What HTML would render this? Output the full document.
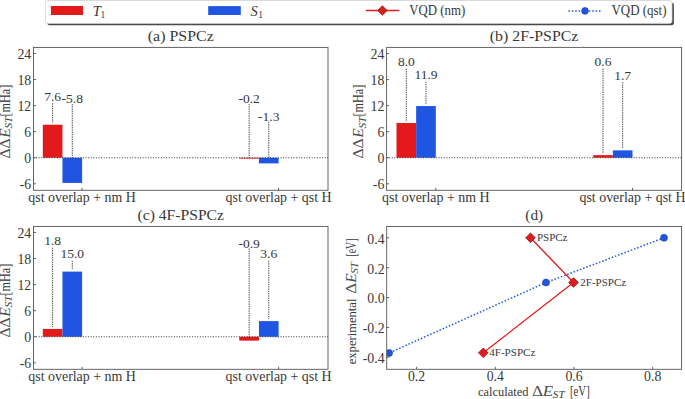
<!DOCTYPE html>
<html><head><meta charset="utf-8"><style>
html,body{margin:0;padding:0;background:#fff;width:685px;height:399px;overflow:hidden}
svg{display:block}
text{font-family:"Liberation Serif", serif;fill:#383838}
</style></head><body>
<svg width="685" height="399" viewBox="0 0 685 399">
<rect x="47.3" y="2.5" width="626.6" height="22.7" rx="2.5" fill="#4a4a4a"/>
<rect x="45.4" y="0.5" width="626.6" height="22.9" rx="2.5" fill="#fff" stroke="#d0d0d0" stroke-width="0.8"/>
<rect x="50.9" y="6" width="32.1" height="9" fill="#e31a1c"/>
<text x="92.8" y="16.0" font-size="14.5" font-style="italic">T</text>
<text x="100.5" y="17.6" font-size="9.5">1</text>
<rect x="208.2" y="6.1" width="32.6" height="8.9" fill="#1f55e0"/>
<text x="250.6" y="16.0" font-size="14.5" font-style="italic">S</text>
<text x="258.2" y="17.6" font-size="9.5">1</text>
<line x1="365.8" y1="10.5" x2="399.3" y2="10.5" stroke="#e31a1c" stroke-width="1.3"/>
<path d="M382.4 5.8 L387.1 10.5 L382.4 15.2 L377.7 10.5 Z" fill="#e31a1c" stroke="#8c1010" stroke-width="0.8"/>
<text x="409.3" y="15.4" font-size="14" text-anchor="start" textLength="56" lengthAdjust="spacingAndGlyphs" >VQD (nm)</text>
<line x1="568.4" y1="10.9" x2="601.2" y2="10.9" stroke="#1f55e0" stroke-width="1.5" stroke-dasharray="1.5 1.9"/>
<circle cx="585" cy="10.9" r="3.4" fill="#1f55e0" stroke="#1b3f9e" stroke-width="0.6"/>
<text x="611.5" y="15.4" font-size="14" text-anchor="start" textLength="55" lengthAdjust="spacingAndGlyphs" >VQD (qst)</text>
<rect x="42.80" y="124.73" width="19.65" height="33.01" fill="#e31a1c"/>
<rect x="62.45" y="157.74" width="19.65" height="25.19" fill="#1f55e0"/>
<text x="52.62" y="100.5" font-size="13.5" text-anchor="middle" >7.6</text>
<line x1="52.62" y1="103.2" x2="52.62" y2="122.73" stroke="#222" stroke-width="0.8" stroke-dasharray="1.4 0.9"/>
<text x="72.27" y="103.3" font-size="13.5" text-anchor="middle" >-5.8</text>
<line x1="72.27" y1="104" x2="72.27" y2="157.74" stroke="#222" stroke-width="0.8" stroke-dasharray="1.4 0.9"/>
<rect x="239.30" y="157.74" width="19.65" height="0.87" fill="#e31a1c"/>
<rect x="258.95" y="157.74" width="19.65" height="5.65" fill="#1f55e0"/>
<text x="249.13" y="103.3" font-size="13.5" text-anchor="middle" >-0.2</text>
<line x1="249.13" y1="104" x2="249.13" y2="157.74" stroke="#222" stroke-width="0.8" stroke-dasharray="1.4 0.9"/>
<text x="268.78" y="121.0" font-size="13.5" text-anchor="middle" >-1.3</text>
<line x1="268.78" y1="121.7" x2="268.78" y2="157.74" stroke="#222" stroke-width="0.8" stroke-dasharray="1.4 0.9"/>
<line x1="33.5" y1="157.74" x2="328.0" y2="157.74" stroke="#222" stroke-width="0.9" stroke-dasharray="1 1.6"/>
<rect x="33.5" y="47.4" width="294.5" height="142.9" fill="none" stroke="#555" stroke-width="0.9"/>
<line x1="33.5" y1="53.51" x2="36.0" y2="53.51" stroke="#555" stroke-width="0.9"/>
<text x="31.2" y="58.71" font-size="13.8" text-anchor="end" >24</text>
<line x1="33.5" y1="79.57" x2="36.0" y2="79.57" stroke="#555" stroke-width="0.9"/>
<text x="31.2" y="84.77" font-size="13.8" text-anchor="end" >18</text>
<line x1="33.5" y1="105.62" x2="36.0" y2="105.62" stroke="#555" stroke-width="0.9"/>
<text x="31.2" y="110.82" font-size="13.8" text-anchor="end" >12</text>
<line x1="33.5" y1="131.68" x2="36.0" y2="131.68" stroke="#555" stroke-width="0.9"/>
<text x="31.2" y="136.88" font-size="13.8" text-anchor="end" >6</text>
<line x1="33.5" y1="157.74" x2="36.0" y2="157.74" stroke="#555" stroke-width="0.9"/>
<text x="31.2" y="162.94" font-size="13.8" text-anchor="end" >0</text>
<line x1="33.5" y1="183.80" x2="36.0" y2="183.80" stroke="#555" stroke-width="0.9"/>
<text x="31.2" y="189.00" font-size="13.8" text-anchor="end" >-6</text>
<line x1="82.1" y1="190.3" x2="82.1" y2="187.8" stroke="#555" stroke-width="0.9"/>
<text x="82.1" y="201.70000000000002" font-size="14" text-anchor="middle" textLength="107.5" lengthAdjust="spacingAndGlyphs" >qst overlap + nm H</text>
<line x1="278.6" y1="190.3" x2="278.6" y2="187.8" stroke="#555" stroke-width="0.9"/>
<text x="278.6" y="201.70000000000002" font-size="14" text-anchor="middle" textLength="106" lengthAdjust="spacingAndGlyphs" >qst overlap + qst H</text>
<text x="180.75" y="41.1" font-size="15" text-anchor="middle" textLength="66" lengthAdjust="spacingAndGlyphs" >(a) PSPCz</text>
<text transform="translate(9.80,158.44) rotate(-90)" font-size="14.5" style="fill:#505050" textLength="20.01" lengthAdjust="spacingAndGlyphs">ΔΔ</text>
<text transform="translate(9.80,137.77) rotate(-90)" font-size="14.5" font-style="italic" style="fill:#505050" textLength="9.51" lengthAdjust="spacingAndGlyphs">E</text>
<text transform="translate(12.10,128.61) rotate(-90)" font-size="10" font-style="italic" textLength="11.95" lengthAdjust="spacingAndGlyphs">ST</text>
<text transform="translate(9.80,116.51) rotate(-90)" font-size="14" textLength="31.83" lengthAdjust="spacingAndGlyphs">[mHa]</text>
<rect x="396.50" y="123.00" width="19.65" height="34.74" fill="#e31a1c"/>
<rect x="416.15" y="106.06" width="19.65" height="51.68" fill="#1f55e0"/>
<text x="406.32" y="66.0" font-size="13.5" text-anchor="middle" >8.0</text>
<line x1="406.32" y1="68.7" x2="406.32" y2="121.00" stroke="#222" stroke-width="0.8" stroke-dasharray="1.4 0.9"/>
<text x="425.98" y="79.0" font-size="13.5" text-anchor="middle" >11.9</text>
<line x1="425.98" y1="81.7" x2="425.98" y2="104.06" stroke="#222" stroke-width="0.8" stroke-dasharray="1.4 0.9"/>
<rect x="593.20" y="155.13" width="19.65" height="2.61" fill="#e31a1c"/>
<rect x="612.85" y="150.36" width="19.65" height="7.38" fill="#1f55e0"/>
<text x="603.02" y="65.89999999999999" font-size="13.5" text-anchor="middle" >0.6</text>
<line x1="603.02" y1="68.6" x2="603.02" y2="153.13" stroke="#222" stroke-width="0.8" stroke-dasharray="1.4 0.9"/>
<text x="622.67" y="79.5" font-size="13.5" text-anchor="middle" >1.7</text>
<line x1="622.67" y1="82.2" x2="622.67" y2="148.36" stroke="#222" stroke-width="0.8" stroke-dasharray="1.4 0.9"/>
<line x1="386.6" y1="157.74" x2="681.6" y2="157.74" stroke="#222" stroke-width="0.9" stroke-dasharray="1 1.6"/>
<rect x="386.6" y="47.4" width="295.0" height="142.9" fill="none" stroke="#555" stroke-width="0.9"/>
<line x1="386.6" y1="53.51" x2="389.1" y2="53.51" stroke="#555" stroke-width="0.9"/>
<text x="384.3" y="58.71" font-size="13.8" text-anchor="end" >24</text>
<line x1="386.6" y1="79.57" x2="389.1" y2="79.57" stroke="#555" stroke-width="0.9"/>
<text x="384.3" y="84.77" font-size="13.8" text-anchor="end" >18</text>
<line x1="386.6" y1="105.62" x2="389.1" y2="105.62" stroke="#555" stroke-width="0.9"/>
<text x="384.3" y="110.82" font-size="13.8" text-anchor="end" >12</text>
<line x1="386.6" y1="131.68" x2="389.1" y2="131.68" stroke="#555" stroke-width="0.9"/>
<text x="384.3" y="136.88" font-size="13.8" text-anchor="end" >6</text>
<line x1="386.6" y1="157.74" x2="389.1" y2="157.74" stroke="#555" stroke-width="0.9"/>
<text x="384.3" y="162.94" font-size="13.8" text-anchor="end" >0</text>
<line x1="386.6" y1="183.80" x2="389.1" y2="183.80" stroke="#555" stroke-width="0.9"/>
<text x="384.3" y="189.00" font-size="13.8" text-anchor="end" >-6</text>
<line x1="435.8" y1="190.3" x2="435.8" y2="187.8" stroke="#555" stroke-width="0.9"/>
<text x="435.8" y="201.70000000000002" font-size="14" text-anchor="middle" textLength="107.5" lengthAdjust="spacingAndGlyphs" >qst overlap + nm H</text>
<line x1="632.5" y1="190.3" x2="632.5" y2="187.8" stroke="#555" stroke-width="0.9"/>
<text x="632.5" y="201.70000000000002" font-size="14" text-anchor="middle" textLength="106" lengthAdjust="spacingAndGlyphs" >qst overlap + qst H</text>
<text x="534.1" y="41.1" font-size="15" text-anchor="middle" textLength="88.5" lengthAdjust="spacingAndGlyphs" >(b) 2F-PSPCz</text>
<text transform="translate(363.20,158.44) rotate(-90)" font-size="14.5" style="fill:#505050" textLength="20.01" lengthAdjust="spacingAndGlyphs">ΔΔ</text>
<text transform="translate(363.20,137.77) rotate(-90)" font-size="14.5" font-style="italic" style="fill:#505050" textLength="9.51" lengthAdjust="spacingAndGlyphs">E</text>
<text transform="translate(365.50,128.61) rotate(-90)" font-size="10" font-style="italic" textLength="11.95" lengthAdjust="spacingAndGlyphs">ST</text>
<text transform="translate(363.20,116.51) rotate(-90)" font-size="14" textLength="31.83" lengthAdjust="spacingAndGlyphs">[mHa]</text>
<rect x="42.80" y="328.92" width="19.65" height="7.82" fill="#e31a1c"/>
<rect x="62.45" y="271.60" width="19.65" height="65.14" fill="#1f55e0"/>
<text x="52.62" y="245.0" font-size="13.5" text-anchor="middle" >1.8</text>
<line x1="52.62" y1="247.7" x2="52.62" y2="326.92" stroke="#222" stroke-width="0.8" stroke-dasharray="1.4 0.9"/>
<text x="72.27" y="258.1" font-size="13.5" text-anchor="middle" >15.0</text>
<line x1="72.27" y1="260.8" x2="72.27" y2="269.60" stroke="#222" stroke-width="0.8" stroke-dasharray="1.4 0.9"/>
<rect x="239.30" y="336.74" width="19.65" height="3.91" fill="#e31a1c"/>
<rect x="258.95" y="321.11" width="19.65" height="15.63" fill="#1f55e0"/>
<text x="249.13" y="247.60000000000002" font-size="13.5" text-anchor="middle" >-0.9</text>
<line x1="249.13" y1="248.3" x2="249.13" y2="336.74" stroke="#222" stroke-width="0.8" stroke-dasharray="1.4 0.9"/>
<text x="268.78" y="258.1" font-size="13.5" text-anchor="middle" >3.6</text>
<line x1="268.78" y1="260.8" x2="268.78" y2="319.11" stroke="#222" stroke-width="0.8" stroke-dasharray="1.4 0.9"/>
<line x1="33.5" y1="336.74" x2="328.0" y2="336.74" stroke="#222" stroke-width="0.9" stroke-dasharray="1 1.6"/>
<rect x="33.5" y="226.4" width="294.5" height="142.9" fill="none" stroke="#555" stroke-width="0.9"/>
<line x1="33.5" y1="232.51" x2="36.0" y2="232.51" stroke="#555" stroke-width="0.9"/>
<text x="31.2" y="237.71" font-size="13.8" text-anchor="end" >24</text>
<line x1="33.5" y1="258.57" x2="36.0" y2="258.57" stroke="#555" stroke-width="0.9"/>
<text x="31.2" y="263.77" font-size="13.8" text-anchor="end" >18</text>
<line x1="33.5" y1="284.62" x2="36.0" y2="284.62" stroke="#555" stroke-width="0.9"/>
<text x="31.2" y="289.82" font-size="13.8" text-anchor="end" >12</text>
<line x1="33.5" y1="310.68" x2="36.0" y2="310.68" stroke="#555" stroke-width="0.9"/>
<text x="31.2" y="315.88" font-size="13.8" text-anchor="end" >6</text>
<line x1="33.5" y1="336.74" x2="36.0" y2="336.74" stroke="#555" stroke-width="0.9"/>
<text x="31.2" y="341.94" font-size="13.8" text-anchor="end" >0</text>
<line x1="33.5" y1="362.80" x2="36.0" y2="362.80" stroke="#555" stroke-width="0.9"/>
<text x="31.2" y="368.00" font-size="13.8" text-anchor="end" >-6</text>
<line x1="82.1" y1="369.3" x2="82.1" y2="366.8" stroke="#555" stroke-width="0.9"/>
<text x="82.1" y="380.7" font-size="14" text-anchor="middle" textLength="107.5" lengthAdjust="spacingAndGlyphs" >qst overlap + nm H</text>
<line x1="278.6" y1="369.3" x2="278.6" y2="366.8" stroke="#555" stroke-width="0.9"/>
<text x="278.6" y="380.7" font-size="14" text-anchor="middle" textLength="106" lengthAdjust="spacingAndGlyphs" >qst overlap + qst H</text>
<text x="180.75" y="220.1" font-size="15" text-anchor="middle" textLength="86.5" lengthAdjust="spacingAndGlyphs" >(c) 4F-PSPCz</text>
<text transform="translate(9.80,337.44) rotate(-90)" font-size="14.5" style="fill:#505050" textLength="20.01" lengthAdjust="spacingAndGlyphs">ΔΔ</text>
<text transform="translate(9.80,316.77) rotate(-90)" font-size="14.5" font-style="italic" style="fill:#505050" textLength="9.51" lengthAdjust="spacingAndGlyphs">E</text>
<text transform="translate(12.10,307.61) rotate(-90)" font-size="10" font-style="italic" textLength="11.95" lengthAdjust="spacingAndGlyphs">ST</text>
<text transform="translate(9.80,295.51) rotate(-90)" font-size="14" textLength="31.83" lengthAdjust="spacingAndGlyphs">[mHa]</text>
<text x="534.2" y="220.1" font-size="15" text-anchor="middle" textLength="17.8" lengthAdjust="spacingAndGlyphs" >(d)</text>
<defs><clipPath id="cd"><rect x="386.7" y="226.5" width="294.90000000000003" height="142.8"/></clipPath></defs>
<g clip-path="url(#cd)">
<polyline points="664,237.8 546,282.5 389.1,353" fill="none" stroke="#1f55e0" stroke-width="1.5" stroke-dasharray="1.5 1.9"/>
<polyline points="530.5,237.8 573.5,282.5 483.3,352.8" fill="none" stroke="#e31a1c" stroke-width="1.3"/>
<circle cx="664" cy="237.8" r="3.5" fill="#1f55e0" stroke="#1b3f9e" stroke-width="0.6"/>
<circle cx="546" cy="282.5" r="3.5" fill="#1f55e0" stroke="#1b3f9e" stroke-width="0.6"/>
<circle cx="389.1" cy="353" r="3.5" fill="#1f55e0" stroke="#1b3f9e" stroke-width="0.6"/>
<path d="M530.5 233.0 L535.3 237.8 L530.5 242.60000000000002 L525.7 237.8 Z" fill="#e31a1c" stroke="#8c1010" stroke-width="0.8"/>
<path d="M573.5 277.7 L578.3 282.5 L573.5 287.3 L568.7 282.5 Z" fill="#e31a1c" stroke="#8c1010" stroke-width="0.8"/>
<path d="M483.3 348.0 L488.1 352.8 L483.3 357.6 L478.5 352.8 Z" fill="#e31a1c" stroke="#8c1010" stroke-width="0.8"/>
</g>
<text x="537.0" y="241.1" font-size="10.5" text-anchor="start" textLength="30.5" lengthAdjust="spacingAndGlyphs" >PSPCz</text>
<text x="580.3" y="285.9" font-size="10.5" text-anchor="start" textLength="45.8" lengthAdjust="spacingAndGlyphs" >2F-PSPCz</text>
<text x="489.2" y="356.3" font-size="10.5" text-anchor="start" textLength="46.2" lengthAdjust="spacingAndGlyphs" >4F-PSPCz</text>
<rect x="386.7" y="226.5" width="294.90000000000003" height="142.8" fill="none" stroke="#555" stroke-width="0.9"/>
<line x1="386.7" y1="237.79" x2="389.2" y2="237.79" stroke="#555" stroke-width="0.9"/>
<text x="384.59999999999997" y="243.69" font-size="13.8" text-anchor="end" >0.4</text>
<line x1="386.7" y1="267.67" x2="389.2" y2="267.67" stroke="#555" stroke-width="0.9"/>
<text x="384.59999999999997" y="273.57" font-size="13.8" text-anchor="end" >0.2</text>
<line x1="386.7" y1="297.55" x2="389.2" y2="297.55" stroke="#555" stroke-width="0.9"/>
<text x="384.59999999999997" y="303.45" font-size="13.8" text-anchor="end" >0.0</text>
<line x1="386.7" y1="327.43" x2="389.2" y2="327.43" stroke="#555" stroke-width="0.9"/>
<text x="384.59999999999997" y="333.33" font-size="13.8" text-anchor="end" >-0.2</text>
<line x1="386.7" y1="357.31" x2="389.2" y2="357.31" stroke="#555" stroke-width="0.9"/>
<text x="384.59999999999997" y="363.21" font-size="13.8" text-anchor="end" >-0.4</text>
<line x1="416.60" y1="369.3" x2="416.60" y2="366.8" stroke="#555" stroke-width="0.9"/>
<text x="416.60" y="380.9" font-size="13.8" text-anchor="middle" >0.2</text>
<line x1="495.30" y1="369.3" x2="495.30" y2="366.8" stroke="#555" stroke-width="0.9"/>
<text x="495.30" y="380.9" font-size="13.8" text-anchor="middle" >0.4</text>
<line x1="574.00" y1="369.3" x2="574.00" y2="366.8" stroke="#555" stroke-width="0.9"/>
<text x="574.00" y="380.9" font-size="13.8" text-anchor="middle" >0.6</text>
<line x1="652.70" y1="369.3" x2="652.70" y2="366.8" stroke="#555" stroke-width="0.9"/>
<text x="652.70" y="380.9" font-size="13.8" text-anchor="middle" >0.8</text>
<text x="478.06" y="395.70" font-size="13" textLength="50.43" lengthAdjust="spacingAndGlyphs">calculated</text>
<text x="532.00" y="395.70" font-size="14.5" style="fill:#505050" textLength="11.06" lengthAdjust="spacingAndGlyphs">Δ</text>
<text x="542.86" y="395.70" font-size="14.5" font-style="italic" style="fill:#505050" textLength="10.41" lengthAdjust="spacingAndGlyphs">E</text>
<text x="552.89" y="398.00" font-size="10" font-style="italic" textLength="11.66" lengthAdjust="spacingAndGlyphs">ST</text>
<text x="569.99" y="395.70" font-size="14.5" textLength="19.79" lengthAdjust="spacingAndGlyphs">[eV]</text>
<text transform="translate(356.00,364.30) rotate(-90)" font-size="13.5" textLength="65.75" lengthAdjust="spacingAndGlyphs">experimental</text>
<text transform="translate(356.00,293.91) rotate(-90)" font-size="14.5" style="fill:#505050" textLength="11.17" lengthAdjust="spacingAndGlyphs">Δ</text>
<text transform="translate(356.00,282.77) rotate(-90)" font-size="14.5" font-style="italic" style="fill:#505050" textLength="9.41" lengthAdjust="spacingAndGlyphs">E</text>
<text transform="translate(358.30,273.71) rotate(-90)" font-size="10" font-style="italic" textLength="11.76" lengthAdjust="spacingAndGlyphs">ST</text>
<text transform="translate(356.00,256.54) rotate(-90)" font-size="14.5" textLength="18.05" lengthAdjust="spacingAndGlyphs">[eV]</text>
</svg>
</body></html>
